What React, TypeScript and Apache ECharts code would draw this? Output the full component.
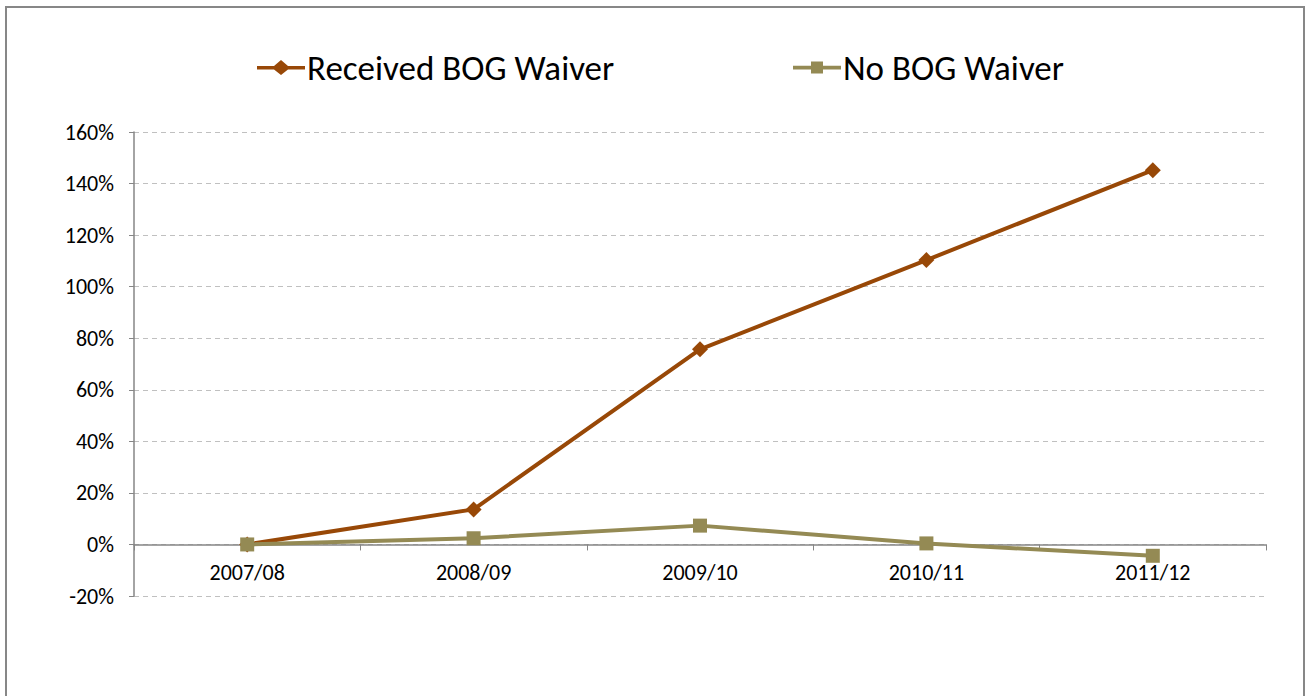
import React, { useEffect, useRef } from "react";
import * as echarts from "echarts";

const categories = ["2007/08", "2008/09", "2009/10", "2010/11", "2011/12"];
const receivedBOG = [0, 13.6, 75.7, 110.3, 145.2];
const noBOG = [0, 2.4, 7.3, 0.4, -4.4];
const seriesNames = ["Received BOG Waiver", "No BOG Waiver"];

const diamondIcon =
  "path://M0,6 L17,6 L24,0 L31,6 L48,6 L48,9.5 L31,9.5 L24,15 L17,9.5 L0,9.5 Z";
const squareIcon =
  "path://M0,5.8 L18,5.8 L18,1.5 L30,1.5 L30,5.8 L48,5.8 L48,9.6 L30,9.6 L30,13.5 L18,13.5 L18,9.6 L0,9.6 Z";

export default function App() {
  const ref = useRef<HTMLDivElement>(null);
  useEffect(() => {
    if (!ref.current) return;
    const chart = echarts.init(ref.current, null, { renderer: "svg" });
    const font = "Calibri, Carlito, 'Liberation Sans', Arial, sans-serif";
    const legendCommon = {
      top: 50,
      padding: 0,
      itemWidth: 48,
      itemHeight: 15,
      itemGap: 0,
      textStyle: { fontSize: 35, color: "#000", fontFamily: font, padding: [0, 0, 0, -3] },
    };
    chart.setOption({
      animation: false,
      backgroundColor: "#ffffff",
      textStyle: { fontFamily: font },
      graphic: [
        {
          type: "rect",
          shape: { x: 6, y: 7, width: 1298, height: 700 },
          style: { fill: "none", stroke: "#878787", lineWidth: 2 },
          silent: true,
        },
      ],
      legend: [
        { ...legendCommon, data: [{ name: seriesNames[0], icon: diamondIcon }], left: 257 },
        { ...legendCommon, data: [{ name: seriesNames[1], icon: squareIcon }], left: 793 },
      ],
      grid: { left: 134, right: 40, top: 132, bottom: 100, containLabel: false },
      xAxis: {
        type: "category",
        data: categories,
        boundaryGap: true,
        axisLine: { onZero: true, lineStyle: { color: "#868686", width: 1.5 } },
        axisTick: { show: true, length: 6, lineStyle: { color: "#868686" } },
        axisLabel: { color: "#000", fontSize: 22, margin: -35, fontFamily: font },
        splitLine: { show: false },
      },
      yAxis: {
        type: "value",
        min: -20,
        max: 160,
        interval: 20,
        axisLine: { show: true, lineStyle: { color: "#868686", width: 1.5 } },
        axisTick: { show: true, length: 5, lineStyle: { color: "#868686" } },
        axisLabel: { color: "#000", fontSize: 22, margin: 20, formatter: "{value}%", fontFamily: font },
        splitLine: { show: true, lineStyle: { color: "#c0c0c0", type: [5, 4], width: 1 } },
      },
      series: [
        {
          name: seriesNames[0],
          type: "line",
          data: receivedBOG,
          symbol: "diamond",
          symbolSize: 16,
          lineStyle: { color: "#984807", width: 4 },
          itemStyle: { color: "#984807" },
          z: 3,
        },
        {
          name: seriesNames[1],
          type: "line",
          data: noBOG,
          symbol: "rect",
          symbolSize: 14,
          lineStyle: { color: "#948A54", width: 4 },
          itemStyle: { color: "#948A54" },
          z: 4,
        },
      ],
    });
    return () => chart.dispose();
  }, []);
  return (
    <div
      ref={ref}
      style={{ position: "fixed", left: 0, top: 0, width: 1306, height: 696 }}
    />
  );
}
